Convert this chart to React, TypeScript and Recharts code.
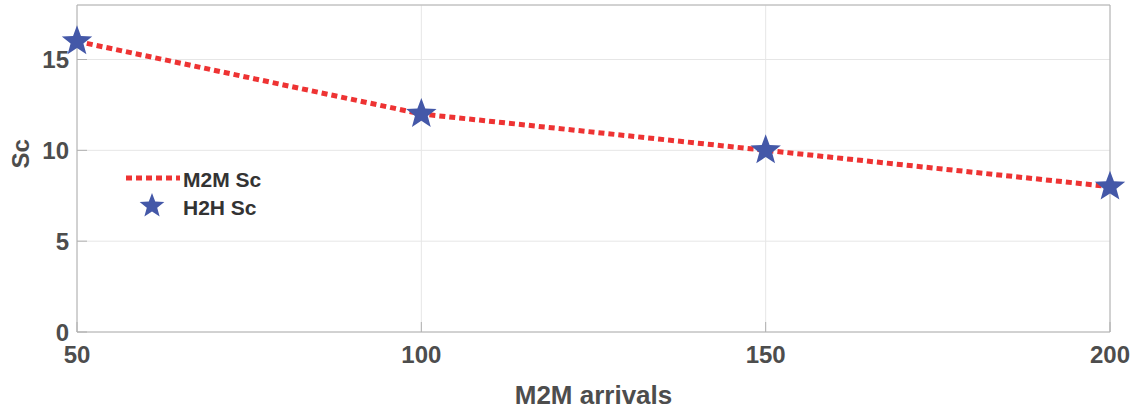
import React from 'react';
import {
  LineChart,
  Line,
  XAxis,
  YAxis,
  CartesianGrid,
  ReferenceLine,
} from 'recharts';

const arrivals = [50, 100, 150, 200];
const m2mSc = [16, 12, 10, 8];
const h2hSc = [16, 12, 10, 8];
const xTicks = [50, 100, 150, 200];
const yTicks = [0, 5, 10, 15];

const data = arrivals.map((a, i) => ({ arrivals: a, m2m: m2mSc[i], h2h: h2hSc[i] }));

const RED = '#ee3333';
const BLUE = '#4458a8';
const AXIS = '#4d4d4d';
const FONT = '"Liberation Sans", Arial, sans-serif';

const starPoints = (cx: number, cy: number, R: number) => {
  const r = R * 0.42;
  const pts: string[] = [];
  for (let i = 0; i < 10; i++) {
    const rad = i % 2 === 0 ? R : r;
    const ang = -Math.PI / 2 + (i * Math.PI) / 5;
    pts.push(`${cx + rad * Math.cos(ang)},${cy + rad * Math.sin(ang)}`);
  }
  return pts.join(' ');
};

const StarDot = (props: any) => {
  const { cx, cy, index } = props;
  if (cx == null || cy == null) return null;
  return <polygon key={`s-${index}`} points={starPoints(cx, cy, 16)} fill={BLUE} />;
};

// legend drawn on top of the plot, outside recharts layout
const LegendBox = () => (
  <svg
    width={170}
    height={60}
    style={{ position: 'absolute', left: 122, top: 166, fontFamily: FONT }}
  >
    <line x1={4} y1={12} x2={58} y2={12} stroke={RED} strokeWidth={5} strokeDasharray="6 4" />
    <text x={61} y={21} fontSize={21} fontWeight="bold" fill="#333">M2M Sc</text>
    <polygon points={starPoints(30, 40, 13)} fill={BLUE} />
    <text x={61} y={49} fontSize={21} fontWeight="bold" fill="#333">H2H Sc</text>
  </svg>
);

export default function App() {
  return (
    <div style={{ position: 'absolute', left: 0, top: 0, width: 1136, height: 412, background: '#fff' }}>
      <LineChart
        width={1136}
        height={412}
        data={data}
        margin={{ top: 5, right: 26, left: 0, bottom: 0 }}
      >
        <CartesianGrid stroke="#e6e6e6" strokeWidth={1} />
        <XAxis
          dataKey="arrivals"
          type="number"
          domain={[50, 200]}
          ticks={xTicks}
          height={80}
          stroke="#b0b0b0"
          tickSize={-10}
          tickMargin={24}
          tick={{ fill: AXIS, fontSize: 24, fontWeight: 'bold', fontFamily: FONT }}
          label={{
            value: 'M2M arrivals',
            position: 'insideBottom',
            offset: 8,
            fill: AXIS,
            fontSize: 26,
            fontWeight: 'bold',
            fontFamily: FONT,
          }}
        />
        <YAxis
          type="number"
          domain={[0, 18]}
          ticks={yTicks}
          width={77}
          stroke="#b0b0b0"
          tickSize={-10}
          tickMargin={18}
          tick={{ fill: AXIS, fontSize: 24, fontWeight: 'bold', fontFamily: FONT }}
          label={{
            value: 'Sc',
            angle: -90,
            position: 'insideLeft',
            offset: 20,
            fill: AXIS,
            fontSize: 24,
            fontWeight: 'bold',
            fontFamily: FONT,
          }}
        />
        <ReferenceLine y={18} stroke="#b0b0b0" />
        <ReferenceLine x={200} stroke="#b0b0b0" />
        <Line
          type="linear"
          dataKey="m2m"
          name="M2M Sc"
          stroke={RED}
          strokeWidth={5}
          strokeDasharray="6 4"
          dot={false}
          activeDot={false}
          isAnimationActive={false}
        />
        <Line
          type="linear"
          dataKey="h2h"
          name="H2H Sc"
          stroke="none"
          dot={<StarDot />}
          activeDot={false}
          isAnimationActive={false}
        />
      </LineChart>
      <LegendBox />
    </div>
  );
}
